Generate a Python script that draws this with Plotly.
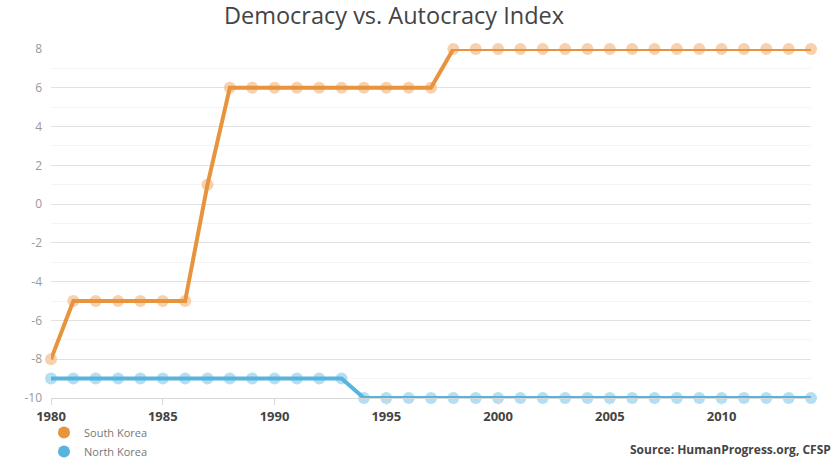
import plotly.graph_objects as go

years = list(range(1980, 2015))
south_korea = [-8, -5, -5, -5, -5, -5, -5, 1, 6, 6, 6, 6, 6, 6, 6, 6, 6, 6,
               8, 8, 8, 8, 8, 8, 8, 8, 8, 8, 8, 8, 8, 8, 8, 8, 8]
north_korea = [-9] * 14 + [-10] * 21
y_ticks = [-10, -8, -6, -4, -2, 0, 2, 4, 6, 8]
y_tick_text = [str(v).replace("−", "-") for v in y_ticks]
x_ticks = [1980, 1985, 1990, 1995, 2000, 2005, 2010]

orange = "#E8943F"
orange_light = "rgba(243,190,140,0.7)"
blue = "#58B3DD"
blue_light = "rgba(150,208,236,0.7)"

fig = go.Figure()
for name, vals, lc, mc in [("South Korea", south_korea, orange, orange_light),
                           ("North Korea", north_korea, blue, blue_light)]:
    fig.add_trace(go.Scatter(x=years, y=vals, mode="markers",
                             marker=dict(size=12, color=mc), showlegend=False,
                             cliponaxis=False, hoverinfo="skip"))
    fig.add_trace(go.Scatter(x=years, y=vals, mode="lines", name=name,
                             line=dict(color=lc, width=4), showlegend=False,
                             cliponaxis=False))
    fig.add_trace(go.Scatter(x=[None], y=[None], mode="markers", name=name,
                             marker=dict(size=10, color=lc), showlegend=True))

fig.update_layout(
    width=839, height=460,
    margin=dict(l=51, r=28, t=49, b=62, autoexpand=False),
    paper_bgcolor="white", plot_bgcolor="white",
    font=dict(family="Open Sans", color="#666"),
    title=dict(text="Democracy vs. Autocracy Index", x=394/839, xanchor="center",
               xref="container", y=0.965, yref="container", yanchor="middle",
               font=dict(size=23.5, color="#444", family="Open Sans")),
    legend=dict(x=44/839, xanchor="left", xref="container",
                y=1 - 418/460, yanchor="top", yref="container",
                font=dict(size=11, color="#777"), itemsizing="constant",
                tracegroupgap=0, bgcolor="rgba(0,0,0,0)"),
    showlegend=True,
    annotations=[dict(text="<b>Source: HumanProgress.org, CFSP</b>", xref="paper",
                      yref="paper", x=(833 - 51) / 760, xanchor="right",
                      y=(398 - 449) / 349, yanchor="middle", showarrow=False,
                      font=dict(size=12, color="#444", family="Open Sans"))],
)
fig.update_xaxes(range=[1980, 2014], tickvals=x_ticks,
                 ticktext=[f"<b>{v}</b>" for v in x_ticks],
                 tickfont=dict(size=13, color="#444"), automargin=False,
                 showgrid=False, zeroline=False, showline=True,
                 linecolor="#d8d8d8", linewidth=1,
                 ticks="outside", ticklen=6, tickcolor="#d8d8d8")
fig.update_yaxes(range=[-10, 8], tickvals=y_ticks, ticktext=y_tick_text,
                 tickfont=dict(size=12, color="#999"), automargin=False,
                 showgrid=True, gridcolor="#e2e2e2", gridwidth=1,
                 zeroline=False, showline=False, ticks="", ticklabelstandoff=8,
                 minor=dict(tickvals=[-9, -7, -5, -3, -1, 1, 3, 5, 7],
                            showgrid=True, gridcolor="#f4f4f4", gridwidth=1))
fig.write_html("out.html", config={"displayModeBar": False},
               post_script="document.body.style.margin='0px';document.body.style.overflow='hidden';")
